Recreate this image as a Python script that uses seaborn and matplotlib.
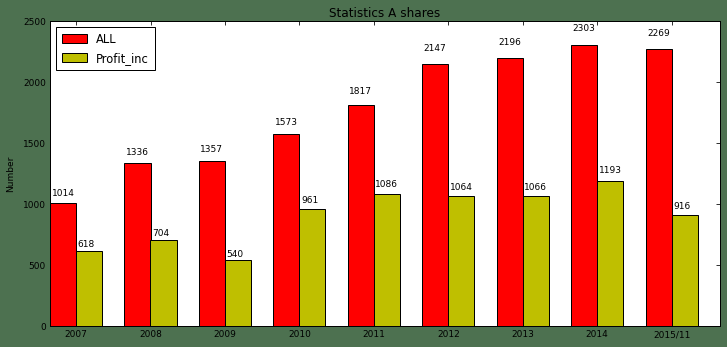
import matplotlib
matplotlib.use("Agg")
import matplotlib.pyplot as plt
import seaborn as sns
import pandas as pd

years = ["2007", "2008", "2009", "2010", "2011", "2012", "2013", "2014", "2015/11"]
all_shares = [1014, 1336, 1357, 1573, 1817, 2147, 2196, 2303, 2269]
profit_inc = [618, 704, 540, 961, 1086, 1064, 1066, 1193, 916]
series_names = ["ALL", "Profit_inc"]
series_colors = ["#ff0000", "#bfbf00"]

df = pd.DataFrame({
    "year": years * 2,
    "value": all_shares + profit_inc,
    "series": [series_names[0]] * len(years) + [series_names[1]] * len(years),
})

sns.set_style("white")
plt.rcParams["font.family"] = ["DejaVu Sans"]
plt.rcParams["text.color"] = "black"
plt.rcParams["axes.labelcolor"] = "black"
plt.rcParams["axes.titlecolor"] = "black"
plt.rcParams["xtick.color"] = "black"
plt.rcParams["ytick.color"] = "black"
plt.rcParams["xtick.direction"] = "in"
plt.rcParams["ytick.direction"] = "in"

bg = "#4d7150"
fig = plt.figure(figsize=(727 / 72, 347 / 72), dpi=72, facecolor=bg)
ax = fig.add_axes([50 / 727, 1 - 326.3 / 347, 670 / 727, 305 / 347])
ax.set_facecolor("white")

sns.barplot(data=df, x="year", y="value", hue="series", palette=series_colors,
            width=0.7, saturation=1, edgecolor="black", linewidth=1,
            ax=ax, errorbar=None)

# value labels above each bar
for container, vals in zip(ax.containers, [all_shares, profit_inc]):
    for rect, v in zip(container, vals):
        ax.text(rect.get_x() + 0.02, 1.05 * v, str(v), fontsize=9,
                ha="left", va="baseline", color="black")

ax.set_xlim(-0.35, 8.65)
ax.set_ylim(0, 2500)
ax.set_yticks([0, 500, 1000, 1500, 2000, 2500])
ax.set_xlabel("")
ax.set_ylabel("Number", fontsize=9, labelpad=8, color="black")
ax.set_title("Statistics A shares", fontsize=12, pad=4, color="black")

ax.tick_params(axis="both", which="both", direction="in", length=4, width=0.8,
               top=True, right=True, labelsize=9, colors="black", pad=4)
for s in ax.spines.values():
    s.set_visible(True)
    s.set_color("black")
    s.set_linewidth(1)

leg = ax.legend(loc="upper left", fontsize=11.5, frameon=True, fancybox=False,
                edgecolor="black", framealpha=1, handlelength=2.2,
                handleheight=0.8, borderpad=0.5, labelspacing=0.5)
leg.get_frame().set_linewidth(1)
for t in leg.get_texts():
    t.set_color("black")

fig.savefig("out.png", dpi=72, facecolor=bg)
